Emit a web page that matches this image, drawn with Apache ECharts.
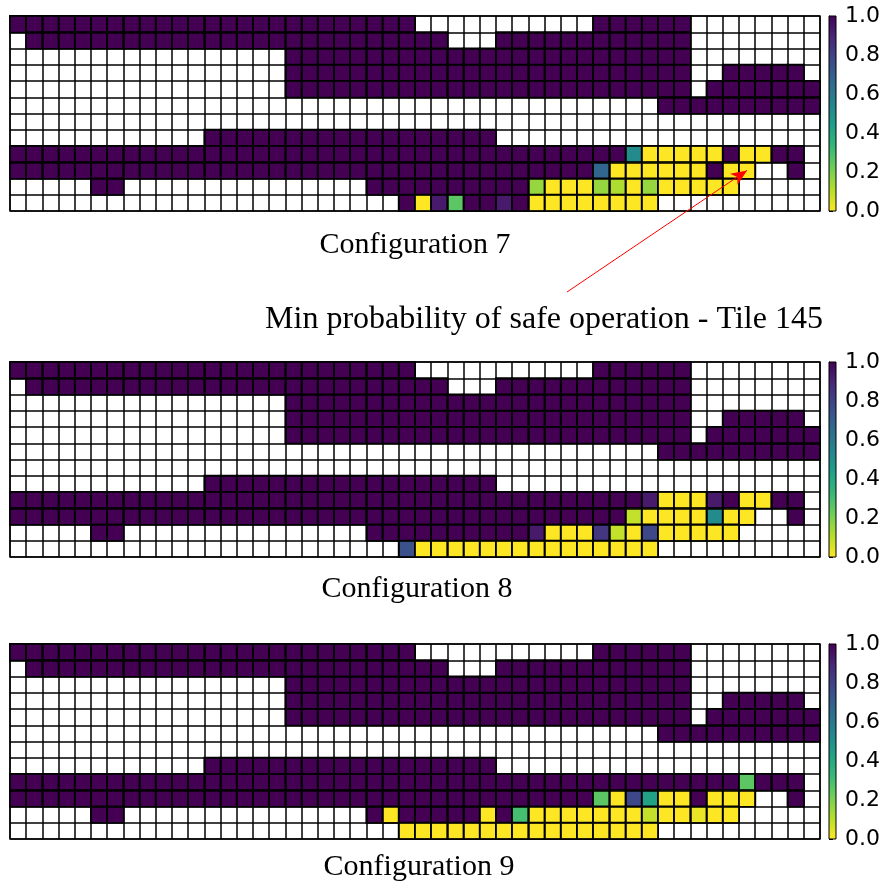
<!DOCTYPE html>
<html>
<head>
<meta charset="utf-8">
<script src="https://cdn.jsdelivr.net/npm/echarts@6/dist/echarts.min.js"></script>
<style>
  html, body { margin: 0; padding: 0; background: #fff; }
  #chart { width: 893px; height: 888px; }
</style>
</head>
<body>
<div id="chart"></div>
<script>
// Tile grid: 50 columns x 12 rows, row 0 at the top.
// Cell codes: '.' = no tile, '#' = 1.0, 'y' = 0.0, letters = intermediate probabilities.
const cellCodes = {
  '#': 1.0, 'y': 0.0,
  'a': 0.93, 'b': 0.84, 'c': 0.78, 'd': 0.75, 'e': 0.67,
  'f': 0.52, 'g': 0.43, 'h': 0.30, 'i': 0.26, 'j': 0.16,
  'k': 0.12, 'l': 0.09, 'm': 0.03
};

const config7 = [
  "#########################...........######........",
  ".##########################...############........",
  ".................#########################........",
  ".................#########################..#####.",
  ".................#########################.#######",
  "........................................##########",
  "..................................................",
  "............##################....................",
  "######################################fyyyyy#yy##.",
  "####################################eyyyyyy#yy..#.",
  ".....##...............##########jyyyjkyjyyyyy.....",
  "........................#yai##a#yyyyyyyy.........."
];

const config8 = [
  "#########################...........######........",
  ".##########################...############........",
  ".................#########################........",
  ".................#########################..#####.",
  ".................#########################.#######",
  "........................................##########",
  "..................................................",
  "............##################....................",
  "#######################################ayyya#yy##.",
  "######################################lyyyyfyy..#.",
  ".....##...............##########ayyyblycyyyyy.....",
  "........................dyyyyyyyyyyyyyyy.........."
];

const config9 = [
  "#########################...........######........",
  ".##########################...############........",
  ".................#########################........",
  ".................#########################..#####.",
  ".................#########################.#######",
  "........................................##########",
  "..................................................",
  "............##################....................",
  "#############################################i###.",
  "####################################iycgyy#yyy..#.",
  ".....##...............#y#####y#hyyyyyyylyymyy.....",
  "........................yyyyyyyyyyyyyyyy.........."
];

const panelTitles = ['Configuration 7', 'Configuration 8', 'Configuration 9'];
const annotationText = 'Min probability of safe operation - Tile 145';
const annotatedTile = [45, 9];   // column, row of the annotated tile in Configuration 7
const colorbarTicks = [0, 0.2, 0.4, 0.6, 0.8, 1.0];

const nCols = 50, nRows = 12;
const colCats = Array.from({ length: nCols }, (_, i) => i);
const rowCats = Array.from({ length: nRows }, (_, i) => i);

// viridis, from 0 (purple) to 1 (yellow)
const viridis = ['#440154', '#482878', '#3e4989', '#31688e', '#26828e',
                 '#1f9e89', '#35b779', '#6ece58', '#b5de2b', '#fde725'];

function toHeatmap(rows) {
  const out = [];
  rows.forEach((line, r) => {
    for (let c = 0; c < line.length; c++) {
      const ch = line[c];
      if (ch === '.') continue;
      out.push([c, r, cellCodes[ch]]);
    }
  });
  return out;
}

const configs = [config7, config8, config9];
const panelTops = [16, 362, 644];
const panelH = 195;
const panelLeft = 10, panelW = 810;
const barLeft = 829, barW = 7;

const grids = [], xAxes = [], yAxes = [], series = [];

configs.forEach((cfg, k) => {
  grids.push({ left: panelLeft, top: panelTops[k], width: panelW, height: panelH,
               show: true, borderColor: '#222', borderWidth: 1.5, backgroundColor: '#fff' });
  xAxes.push({ type: 'category', data: colCats, gridIndex: k, z: 5,
               axisLine: { show: false }, axisTick: { show: false }, axisLabel: { show: false },
               splitLine: { show: true, interval: 0, lineStyle: { color: '#000', width: 1.5 } } });
  yAxes.push({ type: 'category', data: rowCats, gridIndex: k, inverse: true, z: 5,
               axisLine: { show: false }, axisTick: { show: false }, axisLabel: { show: false },
               splitLine: { show: true, interval: 0, lineStyle: { color: '#000', width: 1.5 } } });
  const s = {
    type: 'heatmap', xAxisIndex: k, yAxisIndex: k,
    data: toHeatmap(cfg),
    itemStyle: { borderColor: '#000', borderWidth: 1.5 },
    emphasis: { disabled: true },
    animation: false
  };
  if (k === 0) {
    s.markLine = {
      silent: true, animation: false,
      symbol: ['none', 'arrow'], symbolSize: [10, 16],
      label: { show: false },
      lineStyle: { color: '#ff0000', width: 1, type: 'solid' },
      data: [[ { x: 567, y: 292 }, { coord: annotatedTile } ]]
    };
  }
  series.push(s);
});

// colour bars
configs.forEach((cfg, k) => {
  const gi = 3 + k;
  grids.push({ left: barLeft, top: panelTops[k], width: barW, height: panelH });
  xAxes.push({ type: 'value', gridIndex: gi, min: 0, max: 1, show: false });
  yAxes.push({ type: 'value', gridIndex: gi, min: 0, max: 1, interval: 0.2, position: 'right',
               axisLine: { show: true, lineStyle: { color: '#000', width: 1 } },
               axisTick: { show: true, inside: false, length: 4, lineStyle: { color: '#000', width: 1 } },
               axisLabel: { show: true, margin: 9, color: '#000', fontSize: 22,
                            fontFamily: 'DejaVu Sans', formatter: v => v.toFixed(1) },
               splitLine: { show: false } });
  series.push({
    type: 'custom', xAxisIndex: gi, yAxisIndex: gi, silent: true, animation: false,
    data: [[0, 0, 1]],
    renderItem: (params, api) => {
      const p0 = api.coord([0, 1]);
      const p1 = api.coord([1, 0]);
      const stops = viridis.map((c, i) => ({ offset: i / (viridis.length - 1), color: c }));
      return {
        type: 'rect',
        shape: { x: p0[0], y: p0[1], width: p1[0] - p0[0], height: p1[1] - p0[1] },
        style: { fill: new echarts.graphic.LinearGradient(0, 0, 0, 1, stops), stroke: '#000', lineWidth: 1 }
      };
    }
  });
});

const titleFont = '30px "Liberation Serif", "Times New Roman", serif';
const noteFont = '32px "Liberation Serif", "Times New Roman", serif';
const textPos = [[415, 245], [417, 589], [419, 867]];
const graphics = panelTitles.map((t, k) => ({
  type: 'text', x: textPos[k][0], y: textPos[k][1],
  style: { text: t, font: titleFont, fill: '#000', align: 'center', verticalAlign: 'middle' }
}));
graphics.push({
  type: 'text', x: 544, y: 320,
  style: { text: annotationText, font: noteFont, fill: '#000', align: 'center', verticalAlign: 'middle' }
});

const chart = echarts.init(document.getElementById('chart'), null, { renderer: 'canvas' });
chart.setOption({
  backgroundColor: '#fff',
  animation: false,
  grid: grids,
  xAxis: xAxes,
  yAxis: yAxes,
  visualMap: {
    type: 'continuous', min: 0, max: 1, show: false, seriesIndex: [0, 1, 2],
    inRange: { color: viridis.slice().reverse() }
  },
  graphic: graphics,
  series: series
});
</script>
</body>
</html>
